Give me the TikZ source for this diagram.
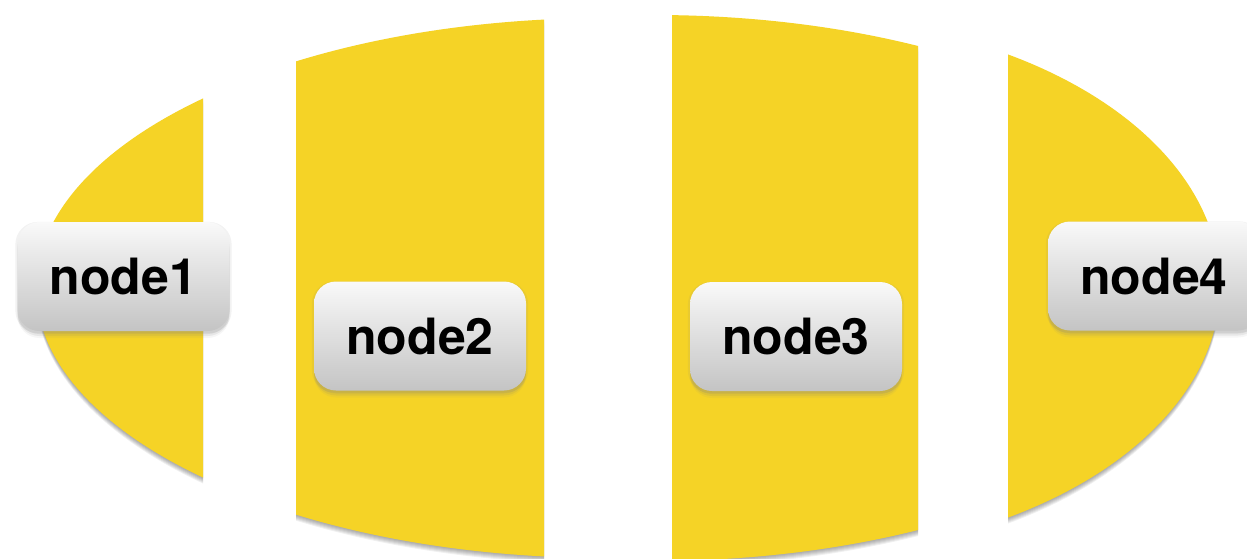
\documentclass[tikz,border=0pt]{standalone}
\usepackage{fontspec}
\setmainfont{TeX Gyre Heros}
\usetikzlibrary{shadows}
\definecolor{petal}{RGB}{245,211,38}
\definecolor{boxtop}{RGB}{249,249,249}
\definecolor{boxbot}{RGB}{196,196,196}
\tikzset{
  nodebox/.style={rounded corners=22pt, minimum width=212pt, minimum height=109pt,
    inner sep=0pt, top color=boxtop, bottom color=boxbot, draw=none,
    font=\fontsize{50}{50}\selectfont\bfseries, text=black,
    drop shadow={shadow xshift=0pt, shadow yshift=-1pt, opacity=0.10, shadow scale=1.02},
    drop shadow={shadow xshift=0pt, shadow yshift=-3pt, opacity=0.15},
    drop shadow={shadow xshift=0pt, shadow yshift=-5pt, opacity=0.12},
    drop shadow={shadow xshift=0pt, shadow yshift=-7pt, opacity=0.07}},
  shade/.style={fill=black, opacity=0.06}
}
\newcommand{\slicefill}[7]{% xl, xr, cx, cy, rx, ry
  \begin{scope}
    \clip (#1,0) rectangle (#2,558);
    \foreach \s in {1,2,3,4,5,6} {
      \fill[shade] (#3,#4+\s) ellipse [x radius=#5pt, y radius=#6pt];
    }
    \fill[petal] (#3,#4) ellipse [x radius=#5pt, y radius=#6pt];
  \end{scope}
}
\begin{document}
\begin{tikzpicture}[x=1pt,y=-1pt]
  \useasboundingbox (0,0) rectangle (1247,558);
  \fill[white] (0,0) rectangle (1247,558);
  % four slices of the yellow ellipse
  \slicefill{0}{203}{606}{288}{570}{268}{}
  \slicefill{296}{544}{606}{288}{570}{270}{}
  \slicefill{672}{918}{654}{288}{570}{273}{}
  \slicefill{1008}{1247}{788}{286}{432}{269}{}
  % nodes
  \node[nodebox] (n1) at (123.5,276.5) {node1};
  \node[nodebox] (n2) at (420,336) {node2};
  \node[nodebox] (n3) at (796,336.5) {node3};
  \node[nodebox] (n4) at (1154,276) {node4};
\end{tikzpicture}
\end{document}
